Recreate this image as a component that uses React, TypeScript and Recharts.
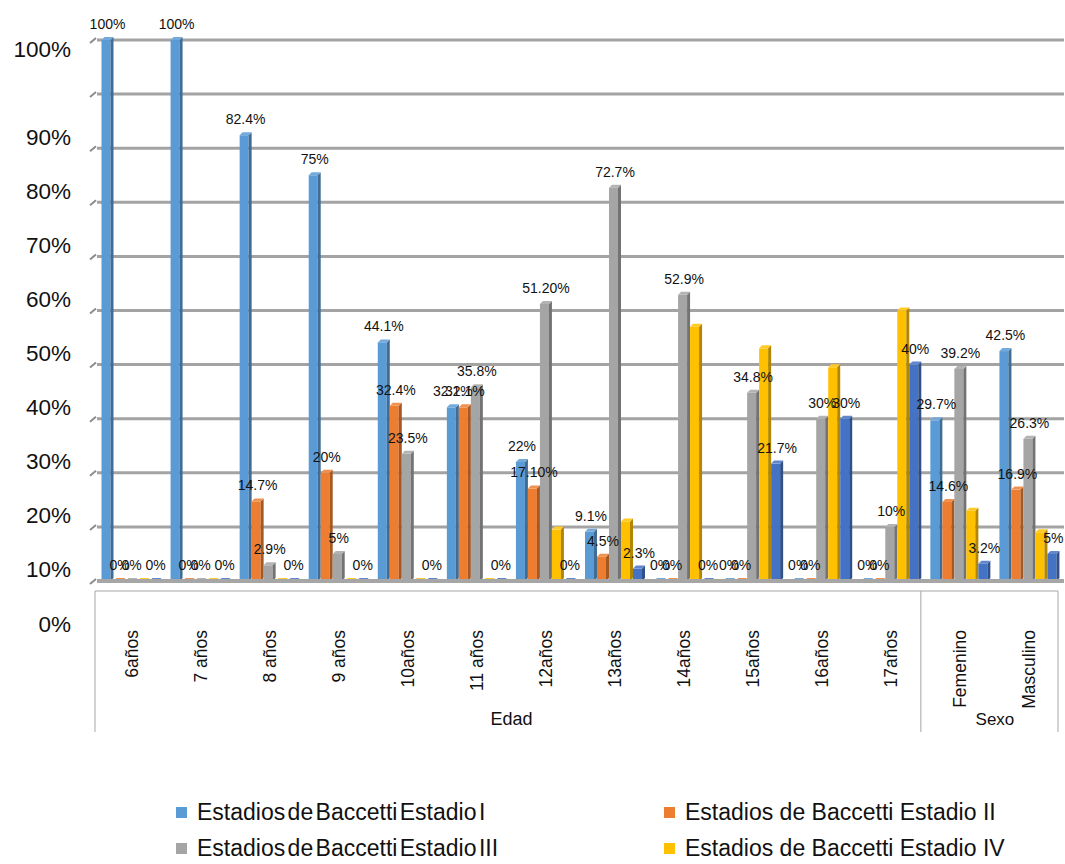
import { Bar, BarChart, CartesianGrid, LabelList, Legend, XAxis, YAxis } from 'recharts'

const categories = [
  '6años', '7 años', '8 años', '9 años', '10años', '11 años', '12años',
  '13años', '14años', '15años', '16años', '17años', 'Femenino', 'Masculino',
]

// group label, first category index, number of categories
const groupNames = ['Edad', 'Sexo']
const groupStarts = [0, 12]
const groupSizes = [12, 2]

const estadioI = [100, 100, 82.4, 75, 44.1, 32.1, 22, 9.1, 0, 0, 0, 0, 29.7, 42.5]
const estadioII = [0, 0, 14.7, 20, 32.4, 32.1, 17.1, 4.5, 0, 0, 0, 0, 14.6, 16.9]
const estadioIII = [0, 0, 2.9, 5, 23.5, 35.8, 51.2, 72.7, 52.9, 34.8, 30, 10, 39.2, 26.3]
const estadioIV = [0, 0, 0, 0, 0, 0, 9.5, 11, 47, 43, 39.5, 50, 13, 9]
const estadioV = [0, 0, 0, 0, 0, 0, 0, 2.3, 0, 21.7, 30, 40, 3.2, 5]

// labels printed with two decimals in the original (series|category)
const twoDecimalLabels = ['II|12años', 'III|12años']

const yTicks = [0, 10, 20, 30, 40, 50, 60, 70, 80, 90, 100]

const series = [
  { key: 'I', name: 'Estadios de Baccetti Estadio I', values: estadioI, color: '#5B9BD5', labels: true, legend: true },
  { key: 'II', name: 'Estadios de Baccetti Estadio II', values: estadioII, color: '#ED7D31', labels: true, legend: true },
  { key: 'III', name: 'Estadios de Baccetti Estadio III', values: estadioIII, color: '#A5A5A5', labels: true, legend: true },
  { key: 'IV', name: 'Estadios de Baccetti Estadio IV', values: estadioIV, color: '#FFC000', labels: false, legend: true },
  { key: 'V', name: 'Estadios de Baccetti Estadio V', values: estadioV, color: '#4472C4', labels: true, legend: false },
]

const rows = categories.map((cat, i) => {
  const row: Record<string, string | number> = { cat }
  series.forEach((s) => {
    const v = s.values[i]
    row[s.key] = v
    row['lbl' + s.key] = twoDecimalLabels.includes(`${s.key}|${cat}`) ? `${v.toFixed(2)}%` : `${v}%`
  })
  return row
})

const FONT = '"Liberation Sans", Arial, sans-serif'

function shade(hex: string, f: number) {
  const n = parseInt(hex.slice(1), 16)
  const ch = [(n >> 16) & 255, (n >> 8) & 255, n & 255].map((c) =>
    Math.round(f < 0 ? c * (1 + f) : c + (255 - c) * f),
  )
  return `rgb(${ch.join(',')})`
}

function Bar3D(props: any) {
  const { x, y, width, height, fill } = props
  const d = 3
  const face = width - d
  return (
    <g>
      {height > 0 && <rect x={x} y={y} width={face} height={height} fill={fill} />}
      {height > 0 && (
        <polygon
          points={`${x + face},${y} ${x + width},${y - d} ${x + width},${y + height - d} ${x + face},${y + height}`}
          fill={shade(fill, -0.3)}
        />
      )}
      <polygon
        points={`${x},${y} ${x + d},${y - d} ${x + width},${y - d} ${x + face},${y}`}
        fill={shade(fill, 0.15)}
      />
    </g>
  )
}

function YTick({ x, y, payload }: any) {
  const dy = payload.value === 100 ? 9 : 43
  const axisX = x + 25
  return (
    <g>
      <line x1={axisX - 6} y1={y + 3} x2={axisX} y2={y - 2} stroke="#8c8c8c" strokeWidth={2} />
      <text x={x} y={y + dy} textAnchor="end" dominantBaseline="central" fontSize={22.5} fill="#111">
        {payload.value}%
      </text>
    </g>
  )
}

function CatTick({ x, y, payload, index }: any) {
  const half = payload.offset || 34.5
  const i = payload.index ?? index
  const lines: number[] = []
  groupStarts.forEach((s, g) => {
    if (i === s) lines.push(x - half - (g === 0 ? 2 : 5))
    if (i === s + groupSizes[g] - 1 && g === groupStarts.length - 1) lines.push(x + half - 6)
  })
  return (
    <g>
      {i === 0 && (
        <line x1={x - half - 2} y1={y + 10} x2={x - half + categories.length * 2 * half - 6} y2={y + 10} stroke="#a6a6a6" strokeWidth={1} />
      )}
      {lines.map((lx) => (
        <line key={lx} x1={lx} y1={y + 10} x2={lx} y2={y + 151} stroke="#a6a6a6" strokeWidth={1} />
      ))}
      <text transform={`translate(${x + 6},${y + 49}) rotate(-90)`} textAnchor="end" fontSize={17.5} fill="#111">
        {payload.value}
      </text>
    </g>
  )
}

function GroupTick({ x, y, payload, index }: any) {
  const half = payload.offset || 34.5
  const i = payload.index ?? index
  const g = groupStarts.findIndex((s, k) => i === s + Math.floor((groupSizes[k] - 1) / 2))
  if (g < 0) return <g />
  const cx = groupSizes[g] % 2 === 0 ? x + half : x
  return (
    <text x={cx} y={y + 18} textAnchor="middle" dominantBaseline="central" fontSize={g === 0 ? 18 : 17} fill="#111">
      {groupNames[g]}
    </text>
  )
}

function LegendBox() {
  const shown = series.filter((s) => s.legend)
  return (
    <div style={{ position: 'relative', height: 123, width: 1064, fontFamily: FONT }}>
      {shown.map((s, i) => {
        const col = i % 2
        const row = Math.floor(i / 2)
        return (
          <div
            key={s.key}
            style={{
              position: 'absolute',
              left: col ? 664 : 176,
              top: 59 + row * 36,
              height: 24,
              display: 'flex',
              alignItems: 'center',
              whiteSpace: 'nowrap',
            }}
          >
            <span style={{ width: 11, height: 11, background: s.color, marginRight: 10 }} />
            <span style={{ fontSize: 23, color: '#111', wordSpacing: col ? 0 : -4 }}>{s.name}</span>
          </div>
        )
      })}
    </div>
  )
}

export default function App() {
  return (
    <div style={{ position: 'absolute', left: 0, top: 0, fontFamily: FONT, background: '#fff' }}>
      <BarChart
        width={1065}
        height={864}
        data={rows}
        margin={{ top: 40, right: 1, bottom: 0, left: 0 }}
        barCategoryGap={4.5}
        barGap={0}
      >
        <CartesianGrid xAxisId="cat" vertical={false} stroke="#a3a3a3" strokeWidth={3} />
        <XAxis
          xAxisId="cat"
          dataKey="cat"
          interval={0}
          height={120}
          tickSize={0}
          tickMargin={0}
          axisLine={{ stroke: '#a6a6a6', strokeWidth: 4 }}
          tick={CatTick}
        />
        <XAxis
          xAxisId="grp"
          dataKey="cat"
          interval={0}
          height={40}
          tickSize={0}
          tickMargin={0}
          axisLine={false}
          tickLine={false}
          tick={GroupTick}
        />
        <YAxis
          width={97}
          domain={[0, 100]}
          ticks={yTicks}
          interval={0}
          axisLine={false}
          tickLine={false}
          tickSize={6}
          tickMargin={20}
          tick={YTick}
        />
        <Legend verticalAlign="bottom" content={LegendBox} />
        {series.map((s) => (
          <Bar
            key={s.key}
            xAxisId="cat"
            dataKey={s.key}
            name={s.name}
            fill={s.color}
            shape={Bar3D}
            isAnimationActive={false}
          >
            {s.labels && (
              <LabelList dataKey={'lbl' + s.key} position="top" offset={11} fontSize={14} fill="#111" />
            )}
          </Bar>
        ))}
      </BarChart>
    </div>
  )
}
